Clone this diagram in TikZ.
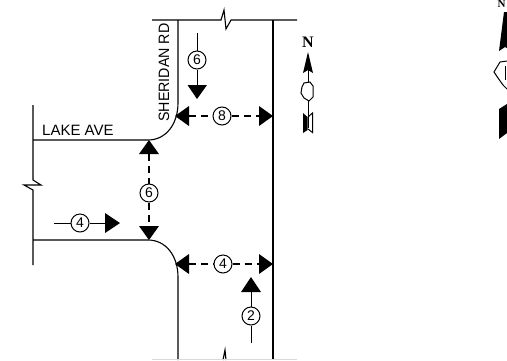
\documentclass[tikz,border=0pt]{standalone}
\usepackage{fontspec}
\setmainfont{Liberation Sans}
\newfontfamily\serifbold{Liberation Serif}
\tikzset{
  road/.style={draw=black,line width=1.1pt},
  dim/.style={draw=black,line width=1pt},
  dimdash/.style={draw=black,line width=1.1pt,dash pattern=on 7pt off 5pt},
  num/.style={circle,draw=black,fill=white,line width=1pt,minimum size=18pt,inner sep=0pt,font=\fontsize{14}{14}\selectfont},
  rdlabel/.style={inner sep=0pt,font=\fontsize{15}{15}\selectfont},
  tip/.style={fill=black,draw=none},
  northn/.style={inner sep=0pt,font=\serifbold\bfseries\fontsize{16}{16}\selectfont}
}
\begin{document}
\begin{tikzpicture}[x=1pt,y=-1pt]
\useasboundingbox (0,0) rectangle (507,360);
\fill[white] (0,0) rectangle (507,360);
% roads
\coordinate (lakeTopL) at (33,140);
\coordinate (lakeBotL) at (33,240);
\draw[road] (178,20) -- (178,103) .. controls (178,124) and (166,140) .. (148,140) -- (lakeTopL);
\draw[road] (33,105) -- (lakeTopL) -- (33,180) -- (41,185) -- (24,185) -- (33,190) -- (lakeBotL) -- (33,265);
\draw[road] (lakeBotL) -- (148,240) .. controls (166,240) and (178,256) .. (178,277) -- (178,360);
\draw[road] (273,20) -- (273,360);
\draw[road] (152,20) -- (221,20) -- (224,10) -- (226,29) -- (231,20) -- (297,20);
\draw[road] (223,360) -- (225,350) -- (226,360);
\draw[draw=black!15,line width=0.8pt] (152,359.5) -- (297,359.5);
% labels
\node[rdlabel,anchor=west] (lake) at (42,130.5) {LAKE AVE};
\node[rdlabel,rotate=90] (sher) at (164,72.5) {\scalebox{0.95}[1]{SHERIDAN RD}};
% dims: SB 6
\node[num] (n6a) at (197,60) {6};
\coordinate (a1) at (197,33);
\coordinate (a2) at (197,85);
\draw[dim] (a1) -- (n6a) -- (a2);
\fill[tip] (187.5,85) -- (207,85) -- (197,99) -- cycle;
% 8
\node[num] (n8) at (222,116) {8};
\coordinate (b1) at (189,116);
\coordinate (b2) at (259,116);
\draw[dimdash] (b1) -- (n8) (n8) -- (b2);
\fill[tip] (175,116) -- (189,106) -- (189,126) -- cycle;
\fill[tip] (273,116) -- (259,106) -- (259,126) -- cycle;
% center 6
\node[num] (n6b) at (149,193) {6};
\coordinate (c1) at (149,154);
\coordinate (c2) at (149,226);
\draw[dimdash] (c1) -- (n6b) (n6b) -- (c2);
\fill[tip] (149,140) -- (139,154) -- (159,154) -- cycle;
\fill[tip] (149,240) -- (139,226) -- (159,226) -- cycle;
% 4 east
\node[num] (n4a) at (80,223) {4};
\coordinate (d1) at (54,223);
\coordinate (d2) at (105,223);
\draw[dim] (d1) -- (n4a) -- (d2);
\fill[tip] (120,223) -- (105,213) -- (105,233) -- cycle;
% 4 lower
\node[num] (n4b) at (223,264) {4};
\coordinate (e1) at (189,264);
\coordinate (e2) at (259,264);
\draw[dimdash] (e1) -- (n4b) (n4b) -- (e2);
\fill[tip] (175,264) -- (189,254) -- (189,274) -- cycle;
\fill[tip] (273,264) -- (259,254) -- (259,274) -- cycle;
% 2
\node[num] (n2) at (251,316) {2};
\coordinate (f1) at (251,343);
\coordinate (f2) at (251,292);
\draw[dim] (f1) -- (n2) -- (f2);
\fill[tip] (251,277) -- (241,292) -- (261,292) -- cycle;
% north arrow small
\node[northn] (nn) at (308,42) {N};
\coordinate (g1) at (308,60);
\coordinate (g2) at (308,128);
\draw[dim] (g1) -- (g2);
\fill[tip] (308,52) -- (313,73) -- (308,70) -- (303,73) -- cycle;
\draw[fill=white,line width=1pt] (304,83) -- (310,82) -- (313,86) -- (313,97) -- (309,101) -- (304,98) -- (301,93) -- (302,87) -- cycle;
\fill[tip] (303,113) -- (307.5,117) -- (307.5,130) -- (303,133) -- cycle;
\draw[line width=1pt] (308,117) -- (312.5,113) -- (312.5,132.5) -- (308,129);
% north arrow large, cut by the picture edge
\begin{scope}
\clip (0,0) rectangle (507,360);
\node[northn,font=\serifbold\bfseries\fontsize{11}{11}\selectfont] (nbig) at (501.5,4) {N};
\fill[tip] (504,12) -- (507,12) -- (507,48) -- (505,47) -- (499,51) -- cycle;
\draw[line width=1pt] (507,61) -- (500,62) -- (497,67) -- (494,72) -- (498,78) -- (503,85) -- (507,89);
\draw[line width=1pt] (505,66) -- (505,80);
\fill[tip] (499,109) -- (507,104) -- (507,133) -- (499,139) -- cycle;
\end{scope}
\end{tikzpicture}
\end{document}
